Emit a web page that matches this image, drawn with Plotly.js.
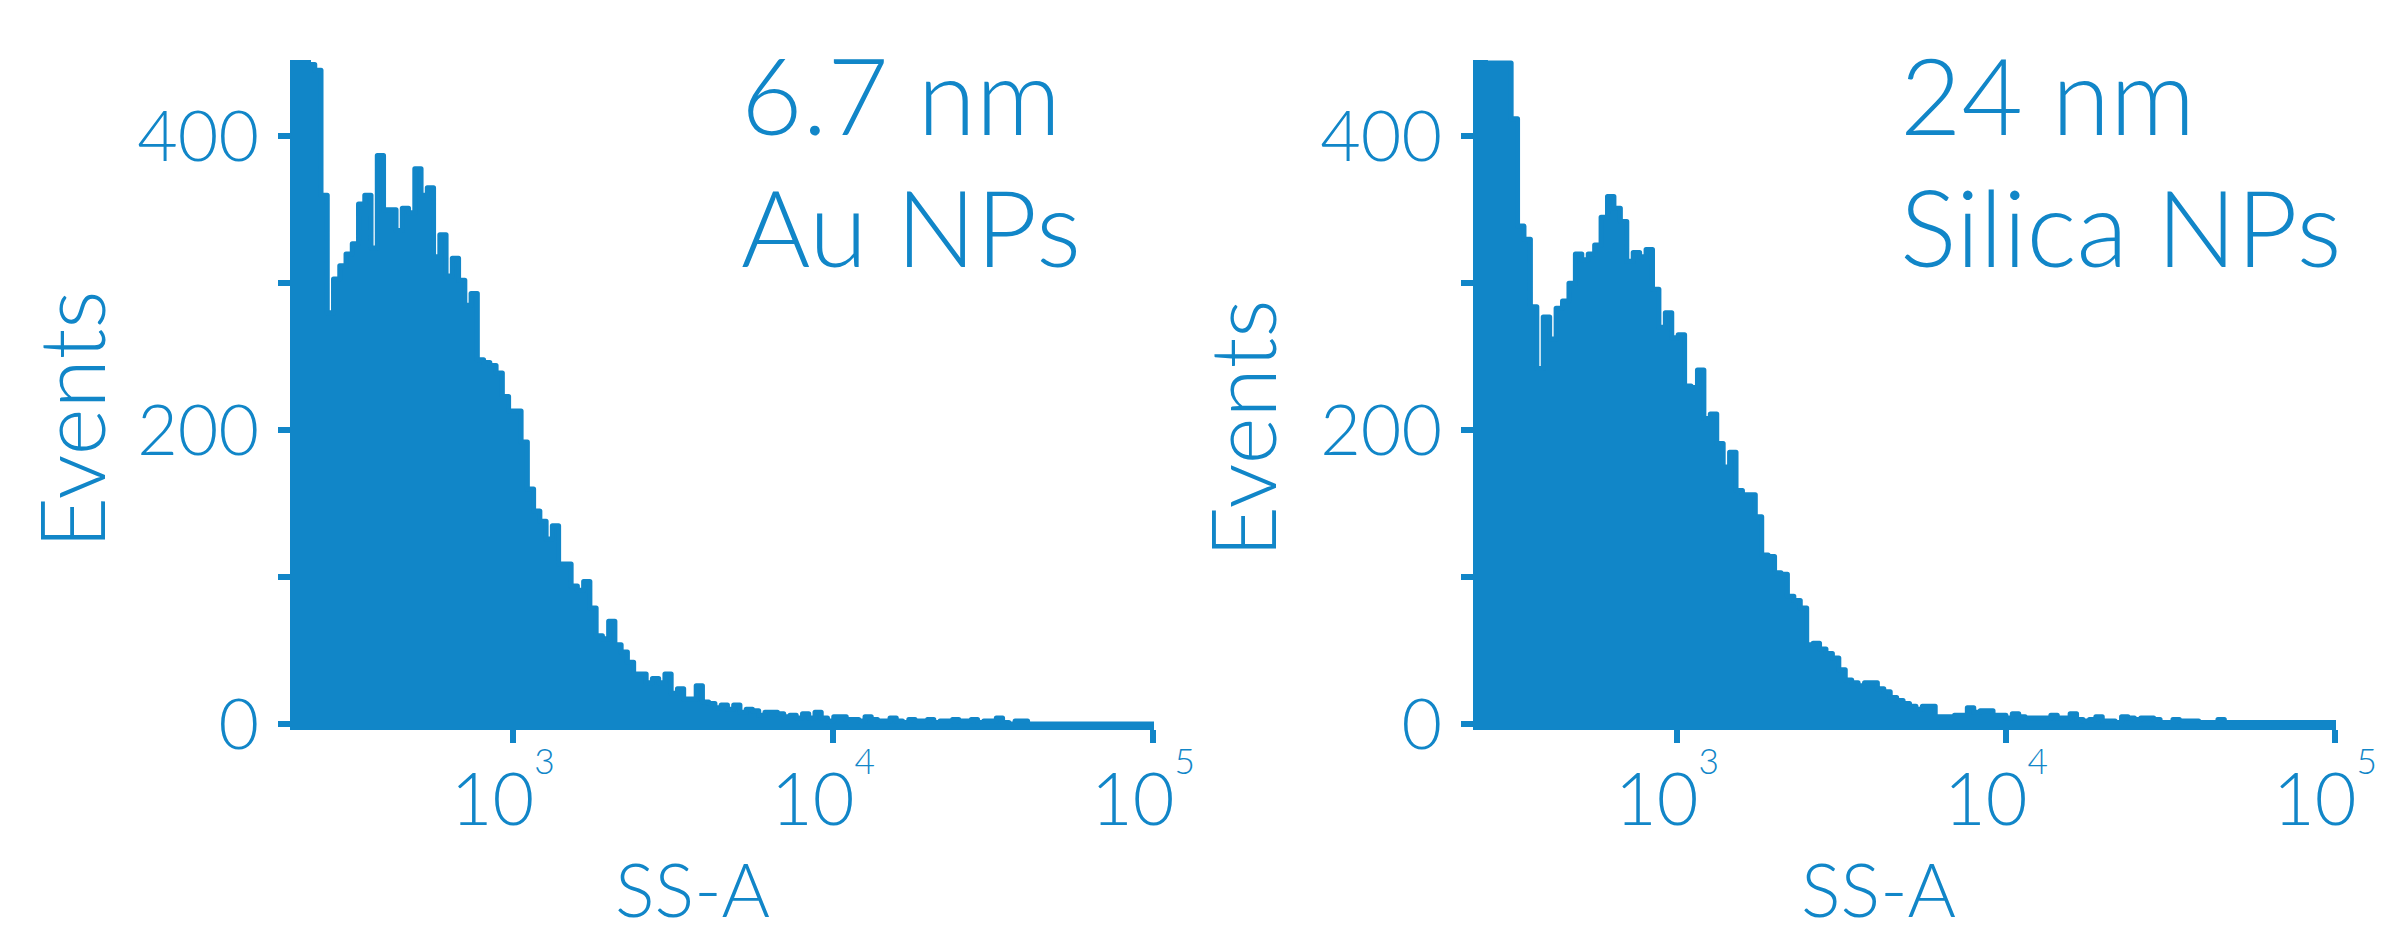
<!DOCTYPE html>
<html>
<head>
<meta charset="utf-8">
<script src="https://cdn.plot.ly/plotly-3.0.1.min.js"></script>
<style>
  html, body { margin: 0; padding: 0; background: #ffffff; }
  #chart { width: 2384px; height: 934px; }
  .js-line { stroke-linejoin: round; stroke-linecap: round; }
</style>
</head>
<body>
<div id="chart"></div>
<script>
// ---- Data (events per histogram bin) ----
// Bins are equal-width on a log10 scale (256 bins over 5 decades).
const binLogWidth = 5 / 256;

// Left panel: 6.7 nm Au NPs, first bin starts at the left end of the axis
const auLogStart = 2.323;
const auCounts = [
  452, 452, 449, 445, 360, 280, 303, 312, 320, 327,
  354, 360, 324, 387, 350, 350, 336, 351, 348, 378,
  360, 365, 318, 333, 305, 317, 302, 285, 293, 248,
  246, 244, 239, 223, 213, 213, 192, 160, 145, 138,
  126, 135, 109, 109, 94, 91, 97, 79, 60, 58,
  70, 54, 49, 42, 34, 34, 28, 31, 28, 34,
  21, 24, 17, 17, 26, 15, 14, 11, 13, 10,
  13, 8, 10, 9, 6, 8, 8, 7, 5, 6,
  4, 7, 4, 8, 4, 2, 5, 5, 3, 3,
  2, 5, 3, 2, 2, 4, 2, 1, 3, 2,
  2, 3, 1, 2, 2, 3, 2, 2, 3, 1,
  2, 2, 4, 1, 0, 2, 2, 0, 0, 0,
  0, 0, 0, 0, 0, 0, 0, 0, 0, 0,
  0, 0, 0, 0, 0, 0, 0, 0
];

// Right panel: 24 nm Silica NPs
const siLogStart = 2.398;
const siCounts = [
  452, 450, 450, 450, 450, 412, 339, 330, 284, 242,
  277, 262, 283, 288, 300, 320, 316, 320, 326, 345,
  359, 351, 342, 315, 321, 318, 323, 296, 270, 280,
  263, 265, 230, 229, 241, 208, 211, 191, 175, 185,
  159, 156, 156, 141, 115, 114, 103, 102, 87, 84,
  79, 54, 55, 51, 48, 45, 37, 30, 28, 26,
  28, 28, 24, 22, 18, 16, 14, 12, 10, 12,
  12, 5, 5, 5, 6, 6, 11, 8, 9, 9,
  6, 6, 4, 7, 5, 4, 4, 4, 4, 6,
  4, 4, 7, 3, 2, 3, 5, 2, 2, 1,
  5, 4, 3, 4, 4, 3, 1, 1, 3, 2,
  2, 2, 1, 1, 1, 3, 1, 1, 1, 1,
  1, 1, 1, 1, 1, 1, 1, 1, 1, 1,
  1, 1, 1, 1
];

const panelLines = [['6.7 nm', 'Au NPs'], ['24 nm', 'Silica NPs']];
const xTickVals = [1e3, 1e4, 1e5];
const xTickText = ['10<sup><sup>3</sup></sup>', '10<sup><sup>4</sup></sup>', '10<sup><sup>5</sup></sup>'];
const yTickVals = [0, 200, 400];
const yTickText = ['0', '200', '400'];
const yMinorTickVals = [100, 300];
const xTitle = 'SS-A';
const yTitle = 'Events';

// ---- Style ----
const BLUE = '#1186C8';
const FONT = 'Lato, "Open Sans", sans-serif';

function histTrace(logStart, counts, xa, ya) {
  const x = [], y = [];
  for (let i = 0; i <= counts.length; i++) {
    x.push(Math.pow(10, logStart + i * binLogWidth));
    y.push(counts[Math.min(i, counts.length - 1)]);
  }
  return {
    type: 'scatter', mode: 'lines', x: x, y: y, xaxis: xa, yaxis: ya,
    line: { shape: 'hv', color: BLUE, width: 5 },
    fill: 'tozeroy', fillcolor: BLUE, hoverinfo: 'skip', showlegend: false
  };
}

const W = 2384, H = 934;
const px = v => v / W;
const py = v => (H - v) / H;

function xAxis(domain, logStart) {
  return {
    type: 'log', domain: domain, range: [logStart, 5.003],
    showline: true, linewidth: 6, linecolor: BLUE,
    ticks: 'outside', ticklen: 13, tickwidth: 6, tickcolor: BLUE,
    tickmode: 'array', tickvals: xTickVals, ticktext: xTickText,
    tickfont: { family: FONT, size: 72, color: BLUE, weight: 300 },
    ticklabelstandoff: -4, ticklabelshift: -10, ticklabeloverflow: 'allow',
    showgrid: false, zeroline: false, fixedrange: true
  };
}
function yAxis(anchor) {
  return {
    anchor: anchor, domain: [py(724), py(60)], range: [0, 452],
    showline: true, linewidth: 6, linecolor: BLUE,
    ticks: 'outside', ticklen: 12, tickwidth: 6, tickcolor: BLUE,
    tickmode: 'array', tickvals: yTickVals, ticktext: yTickText,
    minor: { tickmode: 'array', tickvals: yMinorTickVals, ticks: 'outside',
             ticklen: 12, tickwidth: 6, tickcolor: BLUE, showgrid: false },
    tickfont: { family: FONT, size: 70, color: BLUE, weight: 300 },
    ticklabelstandoff: 5, ticklabeloverflow: 'allow',
    showgrid: false, zeroline: false, fixedrange: true
  };
}

const annFont = s => ({ family: FONT, size: s, color: BLUE, weight: 300 });
const ann = (text, x, y, xa, ya, size, extra) => Object.assign({
  text: text, x: px(x), y: py(y), xref: 'paper', yref: 'paper',
  xanchor: xa, yanchor: ya, align: 'left', showarrow: false, font: annFont(size)
}, extra || {});

const annotations = [
  ann(panelLines[0][0], 739, 28, 'left', 'top', 106),
  ann(panelLines[0][1], 739, 160, 'left', 'top', 106),
  ann(panelLines[1][0], 1898, 28, 'left', 'top', 106),
  ann(panelLines[1][1], 1898, 160, 'left', 'top', 106),
  ann(xTitle, 692, 934, 'center', 'bottom', 74, { borderpad: 0 }),
  ann(xTitle, 1878, 934, 'center', 'bottom', 74, { borderpad: 0 }),
  ann(yTitle, 70, 420, 'center', 'middle', 90, { textangle: -90 }),
  ann(yTitle, 1241, 429, 'center', 'middle', 90, { textangle: -90 })
];

const data = [
  histTrace(auLogStart, auCounts, 'x', 'y'),
  histTrace(siLogStart, siCounts, 'x2', 'y2')
];

const layout = {
  width: W, height: H,
  margin: { l: 0, r: 0, t: 0, b: 0, pad: 0 },
  paper_bgcolor: '#ffffff', plot_bgcolor: '#ffffff',
  showlegend: false,
  xaxis: Object.assign(xAxis([px(296), px(1154)], auLogStart), { anchor: 'y' }),
  yaxis: yAxis('x'),
  xaxis2: Object.assign(xAxis([px(1479), px(2336)], siLogStart), { anchor: 'y2' }),
  yaxis2: yAxis('x2'),
  annotations: annotations,
  font: { family: FONT, color: BLUE }
};

Plotly.newPlot('chart', data, layout, { staticPlot: true, displayModeBar: false });
</script>
</body>
</html>
